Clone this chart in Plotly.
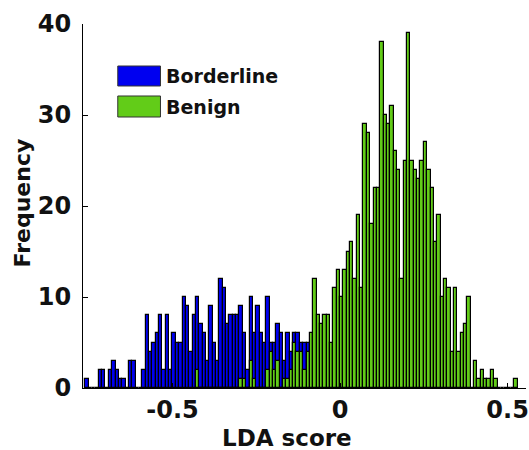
import numpy as np
import plotly.graph_objects as go

# Histogram counts per 0.01-wide bin; each list starts at its first bin's lower edge
bin_width = 0.01

borderline_start = -0.76
borderline_counts = [
    1, 0, 0, 0, 2, 2, 0, 2, 3, 2, 1, 1, 0, 3, 3, 0, 0,      # -0.76 .. -0.60
    2, 8, 4, 5, 6, 8, 2, 8, 2, 6, 5, 5, 10, 9, 4, 8, 10,    # -0.59 .. -0.43
    7, 6, 3, 9, 5, 3, 12, 11, 7, 8, 8, 8, 9, 6, 2, 10,      # -0.42 .. -0.27
    6, 9, 6, 5, 10, 5, 5, 7, 6, 3, 6, 4, 6, 6, 5, 5, 5,     # -0.26 .. -0.10
]

benign_start = -0.43
benign_counts = [
    2, 0, 0, 0, 0, 0, 0, 0, 0, 0, 0, 0, 0,                 # -0.43 .. -0.31
    1, 1, 0, 3, 1, 0, 0, 0, 2, 4, 2, 3, 0, 1, 1, 2,        # -0.30 .. -0.15
    5, 4, 4, 2, 4, 6, 12, 8, 7, 8, 8, 5, 11, 13,           # -0.14 .. -0.01
    10, 13, 15, 16, 12, 19, 11, 29, 28, 18, 22, 22,        #  0.00 ..  0.11
    38, 30, 29, 31, 26, 24, 12, 25, 39, 25, 24, 23,        #  0.12 ..  0.23
    25, 27, 24, 22, 16, 19, 10, 12, 11, 4, 11, 4, 6, 7,    #  0.24 ..  0.37
    10, 0, 3, 1, 2, 1, 1, 2, 1, 0, 0, 0, 0, 0, 1,          #  0.38 ..  0.52
]

x_ticks = [-0.5, 0, 0.5]
x_tick_text = ["-0.5", "0", "0.5"]
y_ticks = [0, 10, 20, 30, 40]
x_limits = [-0.767, 0.555]
y_limits = [0, 40]

series_names = ["Borderline", "Benign"]
series_colors = ["#0000F0", "#62CC18"]


def bin_centers(start, counts):
    return start + bin_width * (np.arange(len(counts)) + 0.5)


FONT = "DejaVu Sans"
TEXT_COLOR = "#111111"

fig = go.Figure()
for start, counts, color, name in [
    (borderline_start, borderline_counts, series_colors[0], series_names[0]),
    (benign_start, benign_counts, series_colors[1], series_names[1]),
]:
    fig.add_trace(go.Bar(
        x=bin_centers(start, counts),
        y=counts,
        width=bin_width,
        name=name,
        marker=dict(color=color, line=dict(color="black", width=1.2)),
        showlegend=False,
    ))

# Legend drawn as large filled swatches with labels, top-left of the axes
legend_rows = [(0.8846, 0.8297), (0.8022, 0.7445)]
for (y_top, y_bot), color, name in zip(legend_rows, series_colors, series_names):
    fig.add_shape(type="rect", xref="paper", yref="paper",
                  x0=0.0785, x1=0.1749, y0=y_bot, y1=y_top,
                  fillcolor=color, line=dict(color="#333333", width=1))
    fig.add_annotation(xref="paper", yref="paper", x=0.183, y=(y_top + y_bot) / 2,
                       text=name, showarrow=False, xanchor="left", yanchor="middle",
                       font=dict(family=FONT, size=19, color=TEXT_COLOR, weight="bold"))

# Axis titles
fig.add_annotation(xref="paper", yref="paper", x=0.4608, y=-0.137,
                   text="LDA score", showarrow=False, xanchor="center", yanchor="middle",
                   font=dict(family=FONT, size=23, color=TEXT_COLOR, weight="bold"))
fig.add_annotation(xref="paper", yref="paper", x=-0.1368, y=0.508,
                   text="Frequency", showarrow=False, textangle=-90,
                   xanchor="center", yanchor="middle",
                   font=dict(family=FONT, size=22, color=TEXT_COLOR, weight="bold"))

fig.update_layout(
    width=529, height=450,
    margin=dict(l=83, r=0, t=24, b=62),
    barmode="overlay",
    bargap=0,
    plot_bgcolor="white",
    paper_bgcolor="white",
)
fig.update_xaxes(
    range=x_limits, tickvals=x_ticks, ticktext=x_tick_text,
    showgrid=False, zeroline=False,
    showline=True, linecolor="black", linewidth=1,
    ticks="inside", ticklen=5, tickcolor="black",
    ticklabelstandoff=0, ticklabeloverflow="allow",
    tickfont=dict(family=FONT, size=24, color=TEXT_COLOR, weight="bold"),
)
fig.update_yaxes(
    range=y_limits, tickvals=y_ticks,
    showgrid=False, zeroline=False,
    showline=True, linecolor="black", linewidth=1,
    ticks="inside", ticklen=5, tickcolor="black",
    ticklabelstandoff=6,
    tickfont=dict(family=FONT, size=24, color=TEXT_COLOR, weight="bold"),
)

fig.write_html("out.html")
